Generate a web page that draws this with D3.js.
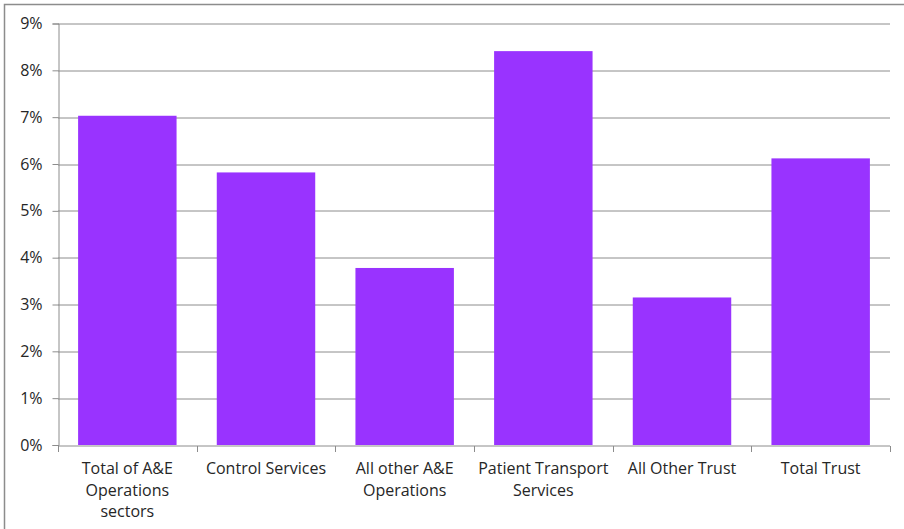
<!DOCTYPE html>
<html>
<head>
<meta charset="utf-8">
<script src="https://cdn.jsdelivr.net/npm/d3@7"></script>
<style>
  html, body { margin: 0; padding: 0; background: #fff; }
  svg { display: block; }
  text { font-family: "Open Sans", Lato, sans-serif; fill: #262626; }
</style>
</head>
<body>
<svg id="chart" width="904" height="529"></svg>
<script>
// Sickness absence rate by sector
const categories = [
  ["Total of A&E", "Operations", "sectors"],
  ["Control Services"],
  ["All other A&E", "Operations"],
  ["Patient Transport", "Services"],
  ["All Other Trust"],
  ["Total Trust"]
];
const values = [0.0703, 0.0582, 0.0378, 0.0841, 0.0315, 0.0612];
const yTicks = [0, 0.01, 0.02, 0.03, 0.04, 0.05, 0.06, 0.07, 0.08, 0.09];

const svg = d3.select("#chart");
const margin = { left: 58, right: 14, top: 23.5, bottom: 84 };
const W = 904, H = 529;
const innerW = W - margin.left - margin.right;
const innerH = H - margin.top - margin.bottom;
const fontSize = 16;

// outer chart frame (top and left edges)
svg.append("path")
  .attr("d", `M4.5,${H} V4.5 H${W}`)
  .attr("fill", "none")
  .attr("stroke", "#8c8c8c")
  .attr("stroke-width", 1.5);

const g = svg.append("g").attr("transform", `translate(${margin.left},${margin.top})`);

const x = d3.scaleBand()
  .domain(d3.range(categories.length))
  .range([0, innerW])
  .paddingInner(0.29)
  .paddingOuter(0.145);

const y = d3.scaleLinear().domain([0, 0.09]).range([innerH, 0]);

// horizontal gridlines
g.append("g")
  .selectAll("line")
  .data(yTicks.slice(1))
  .join("line")
  .attr("x1", 0).attr("x2", innerW)
  .attr("y1", d => Math.round(y(d)) + 0.5)
  .attr("y2", d => Math.round(y(d)) + 0.5)
  .attr("stroke", "#8c8c8c")
  .attr("stroke-width", 1);

// bars
g.append("g")
  .selectAll("rect")
  .data(values)
  .join("rect")
  .attr("x", (d, i) => x(i))
  .attr("width", x.bandwidth())
  .attr("y", d => y(d))
  .attr("height", d => innerH - y(d))
  .attr("fill", "#9933ff");

// y axis
const yAxis = d3.axisLeft(y)
  .tickValues(yTicks)
  .tickFormat(d3.format(".0%"))
  .tickSize(6)
  .tickPadding(10);
const ya = g.append("g").attr("transform", "translate(0.5,0)").call(yAxis);
ya.selectAll("path, line").attr("stroke", "#8c8c8c");
ya.selectAll("text").attr("font-size", fontSize).attr("font-family", "'Open Sans', sans-serif").style("fill", "#262626");

// x axis baseline with ticks between categories
const step = x.step();
const xa = g.append("g").attr("transform", `translate(0,${Math.round(innerH) + 0.5})`);
xa.append("line").attr("x1", 0).attr("x2", innerW).attr("stroke", "#8c8c8c");
xa.selectAll("line.tick")
  .data(d3.range(categories.length + 1))
  .join("line")
  .attr("class", "tick")
  .attr("x1", i => Math.round(i * step) + 0.5)
  .attr("x2", i => Math.round(i * step) + 0.5)
  .attr("y1", 0).attr("y2", 6)
  .attr("stroke", "#8c8c8c");

// category labels
xa.selectAll("text.cat")
  .data(categories)
  .join("text")
  .attr("class", "cat")
  .attr("text-anchor", "middle")
  .attr("font-size", fontSize)
  .attr("transform", (d, i) => `translate(${x(i) + x.bandwidth() / 2},0)`)
  .selectAll("tspan")
  .data(d => d)
  .join("tspan")
  .attr("x", 0)
  .attr("y", (d, j) => 28 + j * 21.5)
  .text(d => d);
</script>
</body>
</html>
